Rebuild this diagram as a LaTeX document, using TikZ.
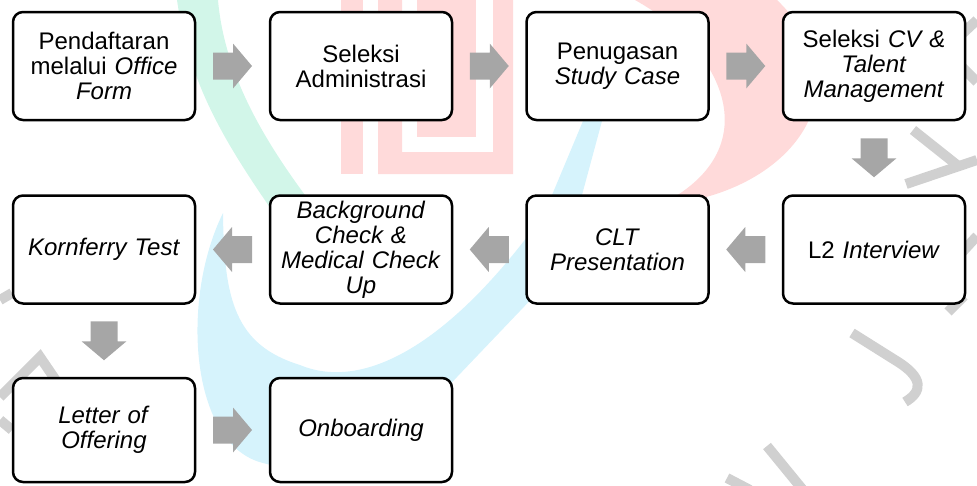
\documentclass[tikz,border=0pt]{standalone}
\usepackage{fontspec}
\setmainfont{Liberation Sans}
\usetikzlibrary{calc}
\definecolor{wmpink}{RGB}{255,218,218}
\definecolor{wmteal}{RGB}{210,246,233}
\definecolor{wmblue}{RGB}{214,243,252}
\definecolor{wmgray}{RGB}{208,208,208}
\definecolor{arrowgray}{RGB}{166,166,166}
\tikzset{
  stepbox/.style={draw=black, line width=2.5pt, fill=white, rounded corners=10pt,
    minimum width=182pt, minimum height=108pt, text width=176pt, align=center,
    inner sep=0pt, font=\fontsize{24}{25}\selectfont},
  lastrow/.style={minimum height=104pt},
  rarrow/.pic={\fill[arrowgray] (-19.5,-13.5) -- (0.5,-13.5) -- (0.5,-22.5) -- (19.5,0)
    -- (0.5,22.5) -- (0.5,13.5) -- (-19.5,13.5) -- cycle;},
  wmstroke/.style={draw=wmgray, line width=10pt},
}
\begin{document}
\begin{tikzpicture}[x=1pt,y=-1pt]
\useasboundingbox (0,0) rectangle (977,485);
% ---- watermark ----
\fill[wmteal] (177,0) .. controls (190,90) and (230,150) .. (282,225)
  -- (320,215) .. controls (270,150) and (225,80) .. (218,0) -- cycle;
\fill[wmblue] (223,213) .. controls (224,300) and (235,345) .. (300,365)
  .. controls (360,390) and (440,350) .. (527,237)
  -- (552,195) -- (583,121) -- (600,80) -- (618,85) -- (602,121) -- (582,195)
  -- (540,290) -- (457,377)
  .. controls (400,440) and (320,480) .. (263,463)
  .. controls (190,445) and (180,300) .. (223,213) -- cycle;
\fill[wmpink] (341,0) rectangle (363,174);
\fill[wmpink] (378,0) -- (378,174) -- (513,174) -- (513,0) -- (493,0) -- (493,152)
  -- (402,152) -- (402,0) -- cycle;
\fill[wmpink] (417,0) rectangle (476,137);
\fill[wmpink] (635,0) .. controls (725,50) and (770,150) .. (660,205)
  .. controls (790,195) and (870,90) .. (777,0) -- cycle;
\draw[wmstroke] (977,20) -- (945,50) -- (977,82);
\draw[wmstroke] (913,130) -- (957,165);
\draw[wmstroke] (906,184) -- (977,160);
\draw[wmstroke] (977,236) -- (955,260);
\draw[wmstroke] (964,296) -- (948,312);
\draw[wmstroke] (852,333) -- (895,360) .. controls (925,378) and (922,392) .. (905,402);
\draw[wmstroke] (767,446) -- (803,490);
\draw[wmstroke] (727,478) -- (750,490);
\draw[wmstroke] (0,397) -- (40,357) -- (57,382);
\draw[wmstroke] (0,300) -- (12,293);
\draw[wmstroke] (0,420) -- (12,430);
% ---- steps ----
\node[stepbox] (b1) at (104,66) {Pendaftaran\\melalui \textit{Office}\\\textit{Form}};
\node[stepbox] (b2) at (361,66) {Seleksi\\Administrasi};
\node[stepbox] (b3) at (617.5,66) {Penugasan\\\textit{Study Case}};
\node[stepbox] (b4) at (874,66) {Seleksi \textit{CV \&}\\\textit{Talent}\\\textit{Management}};
\node[stepbox] (b5) at (874,249.5) {L2 \textit{Interview}};
\node[stepbox] (b6) at (617.5,249.5) {\textit{CLT}\\\textit{Presentation}};
\node[stepbox] (b7) at (361,249.5) {\textit{Background}\\\textit{Check \&}\\\textit{Medical Check}\\\textit{Up}};
\node[stepbox] (b8) at (104,249.5) {\textit{Kornferry Test}};
\node[stepbox,lastrow] (b9) at (104,430) {\textit{Letter of}\\\textit{Offering}};
\node[stepbox,lastrow] (b10) at (361,430) {\textit{Onboarding}};
% ---- arrows ----
\pic at ($(b1.east)!0.5!(b2.west)$) {rarrow};
\pic at ($(b2.east)!0.5!(b3.west)$) {rarrow};
\pic at ($(b3.east)!0.5!(b4.west)$) {rarrow};
\pic[rotate=-90] at ($(b4.south)!0.5!(b5.north)$) {rarrow};
\pic[rotate=180] at ($(b5.west)!0.5!(b6.east)$) {rarrow};
\pic[rotate=180] at ($(b6.west)!0.5!(b7.east)$) {rarrow};
\pic[rotate=180] at ($(b7.west)!0.5!(b8.east)$) {rarrow};
\pic[rotate=-90] at ($(b8.south)!0.5!(b9.north)$) {rarrow};
\pic at ($(b9.east)!0.5!(b10.west)$) {rarrow};
\end{tikzpicture}
\end{document}
